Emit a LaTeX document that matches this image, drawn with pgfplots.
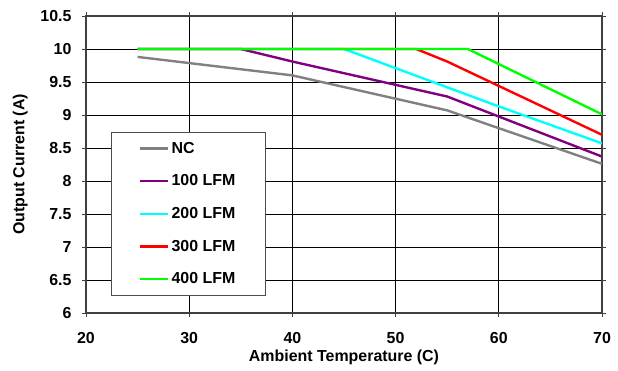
\documentclass[border=0pt]{standalone}
\usepackage{pgfplots}
\pgfplotsset{compat=1.18}
\usepackage{fontspec}
\setmainfont{Liberation Sans}
\definecolor{ncgray}{RGB}{128,128,128}
\definecolor{lpurple}{RGB}{128,0,128}
\definecolor{lcyan}{RGB}{0,255,255}
\definecolor{lred}{RGB}{255,0,0}
\definecolor{lgreen}{RGB}{0,255,0}
\begin{document}
\begin{tikzpicture}
\begin{axis}[
  scale only axis,
  width=516bp, height=297bp,
  xmin=20, xmax=70, ymin=6, ymax=10.5,
  xtick={20,30,40,50,60,70},
  ytick={6,6.5,7,7.5,8,8.5,9,9.5,10,10.5},
  grid=major,
  major grid style={black, line width=0.7pt},
  axis line style={black!75, line width=1.2pt},
  tick align=outside,
  major tick length=4bp,
  tick style={black!75, line width=0.8pt},
  /pgf/number format/assume math mode=true,
  ticklabel style={font=\fontsize{16}{18}\selectfont\bfseries},
  xticklabel style={yshift=-12bp},
  yticklabel style={xshift=-7bp},
  label style={font=\fontsize{16}{18}\selectfont\bfseries},
  xlabel={Ambient Temperature (C)},
  ylabel={Output Current (A)},
  xlabel style={yshift=1bp},
  ylabel style={yshift=6bp},
  legend cell align=left,
  legend style={at={(0.048,0.61)}, anchor=north west, draw=black!70, line width=0.8pt,
    fill=white, font=\fontsize{16}{18}\selectfont\bfseries,
    inner xsep=28bp, inner ysep=8bp, row sep=16bp},
  legend image code/.code={\draw[#1, line width=2.4pt] (0bp,0bp) -- (28bp,0bp);},
  every axis plot/.append style={line width=2.4pt},
]
\addplot[color=ncgray] coordinates {(25,9.88) (40,9.6) (55,9.07) (70,8.26)};
\addlegendentry{NC}
\addplot[color=lpurple] coordinates {(25,10) (35,10) (40,9.81) (55,9.28) (70,8.37)};
\addlegendentry{100 LFM}
\addplot[color=lcyan] coordinates {(25,10) (45,10) (60,9.13) (70,8.57)};
\addlegendentry{200 LFM}
\addplot[color=lred] coordinates {(25,10) (52,10) (55,9.81) (70,8.7)};
\addlegendentry{300 LFM}
\addplot[color=lgreen] coordinates {(25,10) (57,10) (70,9.01)};
\addlegendentry{400 LFM}
\end{axis}
\path (current axis.south west) +(-86bp,-58bp) (current axis.north east) +(16bp,16bp);
\end{tikzpicture}
\end{document}
